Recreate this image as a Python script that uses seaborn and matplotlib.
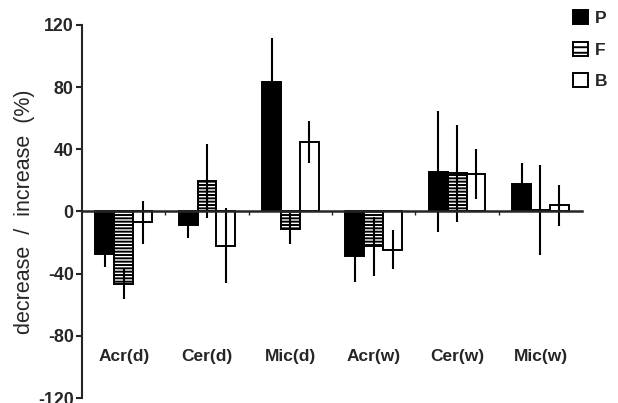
import matplotlib
matplotlib.use("Agg")
import matplotlib.pyplot as plt
import seaborn as sns
import pandas as pd
import numpy as np
from matplotlib.patches import Patch
from matplotlib.ticker import FixedLocator

categories = ["Acr(d)", "Cer(d)", "Mic(d)", "Acr(w)", "Cer(w)", "Mic(w)"]
groups = ["P", "F", "B"]
vals_P = [-27.5, -8.8, 83.4, -28.5, 25.6, 17.8]
vals_F = [-46.5, 19.5, -11.0, -22.4, 24.5, 1.2]
vals_B = [-7.0, -22.0, 44.5, -24.5, 24.0, 3.9]
err_P = [8.0, 8.0, 28.0, 17.0, 39.0, 13.7]
err_F = [10.0, 24.0, 10.0, 19.0, 31.0, 29.0]
err_B = [14.0, 24.0, 13.5, 12.7, 16.0, 13.0]
yticks = [-120, -80, -40, 0, 40, 80, 120]

vals = {"P": vals_P, "F": vals_F, "B": vals_B}
errs = {"P": err_P, "F": err_F, "B": err_B}
df = pd.DataFrame({
    "category": [c for g in groups for c in categories],
    "group": [g for g in groups for _ in categories],
    "value": [v for g in groups for v in vals[g]],
})

sns.set_style("ticks")
plt.rcParams["font.family"] = ["Liberation Sans", "DejaVu Sans"]
plt.rcParams["hatch.linewidth"] = 1.4

fig = plt.figure(figsize=(6.18, 4.03), dpi=100)
ax = fig.add_axes([0.1327, 0.0124, 0.8093, 0.9256])

palette = {"P": "black", "F": "white", "B": "white"}
sns.barplot(data=df, x="category", y="value", hue="group", order=categories,
            hue_order=groups, palette=palette, width=0.68, edgecolor="black",
            linewidth=1.4, errorbar=None, legend=False, ax=ax, zorder=2)

for cont, g in zip(ax.containers, groups):
    xs = []
    for p in cont.patches:
        xs.append(p.get_x() + p.get_width() / 2)
        if g == "F":
            p.set_hatch("-----")
    ax.errorbar(xs, vals[g], yerr=errs[g], fmt="none", ecolor="black",
                elinewidth=1.5, capsize=0, zorder=3)

ax.set_ylim(-120, 120)
ax.set_xlim(-0.5, 5.5)
ax.set_yticks(yticks)
ax.set_yticklabels([str(t) for t in yticks], fontsize=12.8, fontweight="bold")
ax.tick_params(axis="y", direction="out", length=4, width=1.5, pad=2)

ax.spines["top"].set_visible(False)
ax.spines["right"].set_visible(False)
ax.spines["left"].set_linewidth(1.5)
ax.spines["bottom"].set_position(("data", 0))
ax.spines["bottom"].set_linewidth(1.8)
ax.spines["bottom"].set_zorder(4)
ax.tick_params(axis="x", which="major", length=0, pad=99)
ax.set_xticks(range(len(categories)))
ax.set_xticklabels(categories, fontsize=12.5, fontweight="bold")
ax.xaxis.set_minor_locator(FixedLocator([0.5, 1.5, 2.5, 3.5, 4.5]))
ax.tick_params(axis="x", which="minor", direction="out", length=3, width=1.0)

ax.set_xlabel("")
ax.set_ylabel("decrease  /  increase  (%)", fontsize=15.5)
ax.yaxis.set_label_coords(-0.094, 0.5)

handles = [Patch(facecolor="black", edgecolor="black", linewidth=1.4, label="P"),
           Patch(facecolor="white", edgecolor="black", linewidth=1.4, hatch="---", label="F"),
           Patch(facecolor="white", edgecolor="black", linewidth=1.4, label="B")]
leg = fig.legend(handles=handles, loc="upper left", bbox_to_anchor=(0.917, 0.99),
                 frameon=False, handlelength=0.85, handleheight=0.85, handletextpad=0.45,
                 labelspacing=0.9, borderpad=0.35, borderaxespad=0.0,
                 prop={"weight": "bold", "size": 12.5})

fig.savefig("out.png", dpi=100)
